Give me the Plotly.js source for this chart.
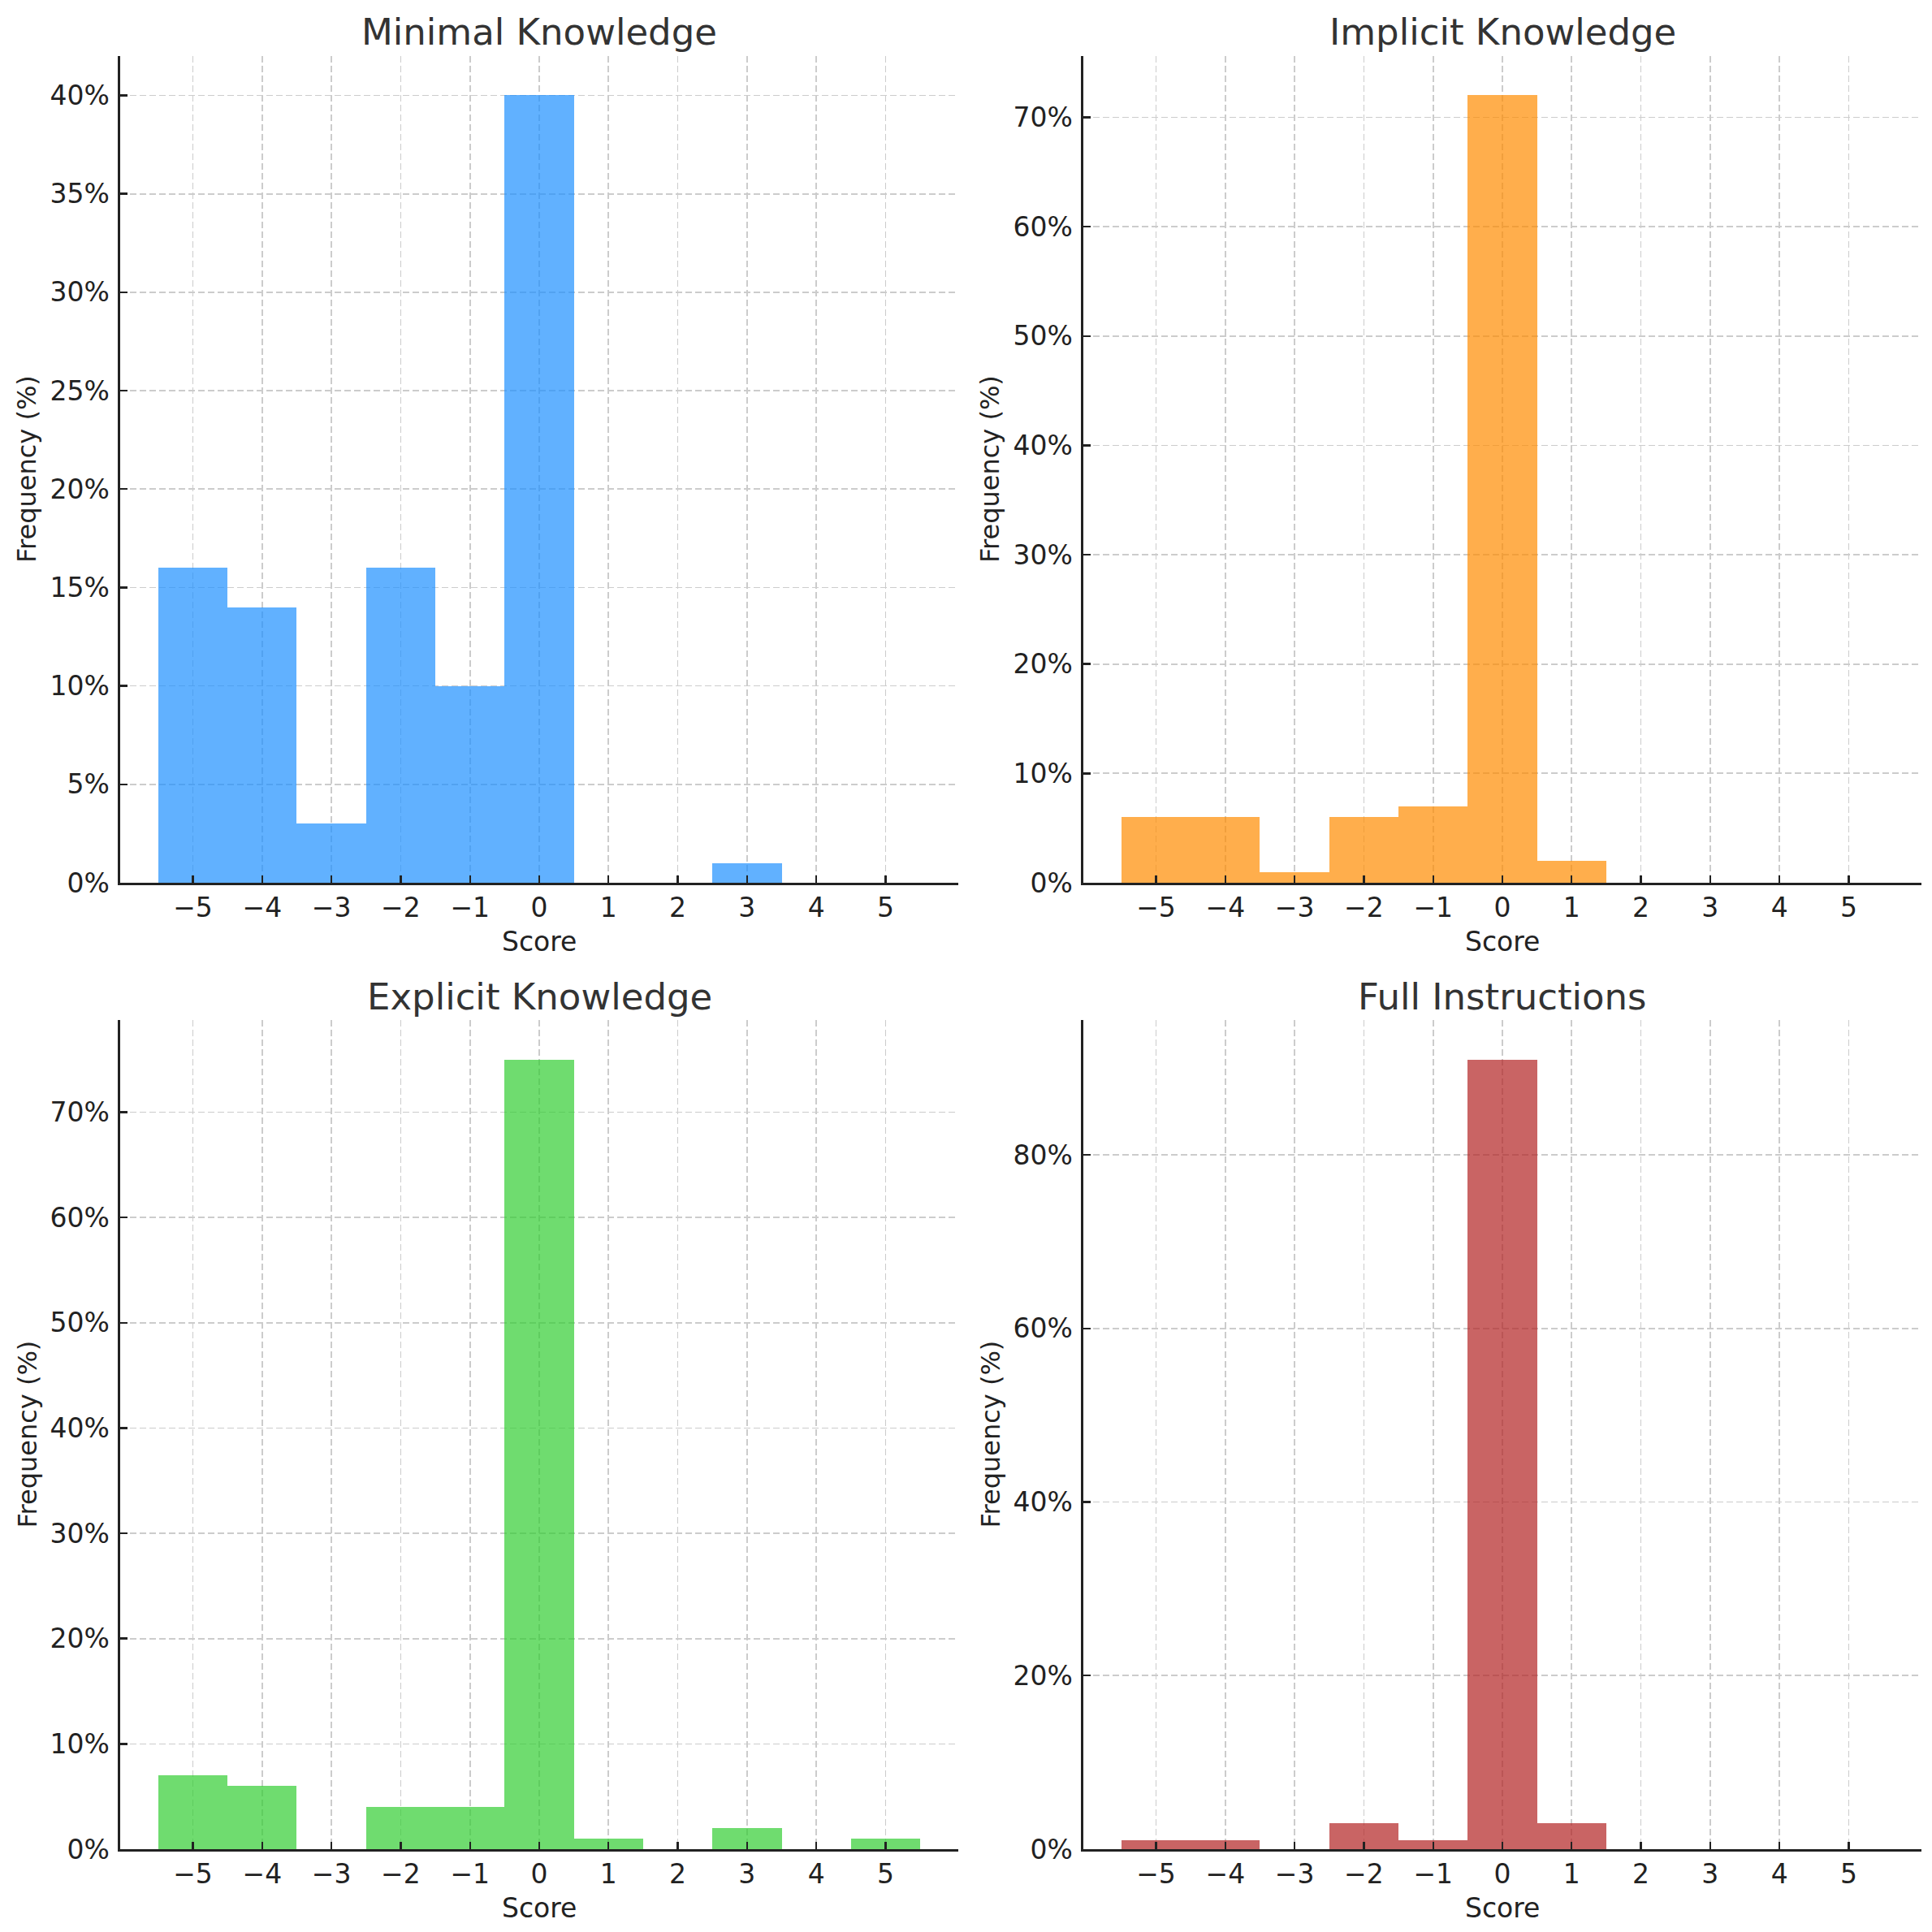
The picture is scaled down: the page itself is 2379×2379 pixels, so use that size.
<!DOCTYPE html>
<html>
<head>
<meta charset="utf-8">
<script src="https://cdn.plot.ly/plotly-3.0.1.min.js"></script>
<style>html,body{margin:0;padding:0;background:#fff;}#chart{width:2379px;height:2379px;}</style>
</head>
<body>
<div id="chart"></div>
<script>
// ---- data ----
const scores = [-5, -4, -3, -2, -1, 0, 1, 2, 3, 4, 5];
const minimalKnowledge  = [16, 14, 3, 16, 10, 40, 0, 0, 1, 0, 0];
const implicitKnowledge = [6, 6, 1, 6, 7, 72, 2, 0, 0, 0, 0];
const explicitKnowledge = [7, 6, 0, 4, 4, 75, 1, 0, 2, 0, 1];
const fullInstructions  = [1, 1, 0, 3, 1, 91, 3, 0, 0, 0, 0];
const panelTitles = ["Minimal Knowledge", "Implicit Knowledge", "Explicit Knowledge", "Full Instructions"];
const yTickSets = [
  [0, 5, 10, 15, 20, 25, 30, 35, 40],
  [0, 10, 20, 30, 40, 50, 60, 70],
  [0, 10, 20, 30, 40, 50, 60, 70],
  [0, 20, 40, 60, 80]
];
const xLabel = "Score";
const yLabel = "Frequency (%)";

// ---- styling ----
const series = [minimalKnowledge, implicitKnowledge, explicitKnowledge, fullInstructions];
const colors = ["#1E90FF", "#FF8C00", "#32CD32", "#B22222"];
const W = 2379;
const xDomains = [[148/W, 1180/W], [1334/W, 2366/W], [148/W, 1180/W], [1334/W, 2366/W]];
const yDomains = [[1-1087/W, 1-69/W], [1-1087/W, 1-69/W], [1-2277/W, 1-1256/W], [1-2277/W, 1-1256/W]];
const FONT = "DejaVu Sans, sans-serif";

const traces = [];
const layout = {
  width: W, height: W,
  margin: {l: 0, r: 0, t: 0, b: 0},
  paper_bgcolor: "#ffffff",
  plot_bgcolor: "#ffffff",
  showlegend: false,
  bargap: 0,
  font: {family: FONT, size: 33, color: "#222222"},
  annotations: []
};

series.forEach((vals, i) => {
  const n = i + 1;
  const xa = n === 1 ? "x" : "x" + n;
  const ya = n === 1 ? "y" : "y" + n;
  traces.push({
    type: "bar",
    x: scores,
    y: vals,
    width: 1,
    xaxis: xa,
    yaxis: ya,
    marker: {color: colors[i], opacity: 0.7, line: {width: 0}},
    hoverinfo: "x+y"
  });
  const maxV = Math.max(...vals);
  const common = {
    showline: true, linecolor: "#222222", linewidth: 2.6, mirror: false,
    ticks: "inside", ticklen: 9, tickwidth: 2.4, tickcolor: "#222222",
    showgrid: true, gridcolor: "#cccccc", gridwidth: 1.7, griddash: "8px,4px",
    zeroline: false, automargin: false,
    tickfont: {family: FONT, size: 33, color: "#222222"}
  };
  layout["xaxis" + (n === 1 ? "" : n)] = Object.assign({}, common, {
    domain: xDomains[i],
    anchor: ya,
    range: [-6.05, 6.05],
    tickmode: "array",
    tickvals: scores,
    ticklabelstandoff: 0
  });
  layout["yaxis" + (n === 1 ? "" : n)] = Object.assign({}, common, {
    domain: yDomains[i],
    anchor: xa,
    range: [0, maxV * 1.05],
    tickmode: "array",
    tickvals: yTickSets[i],
    ticktext: yTickSets[i].map(v => v + "%"),
    ticklabelstandoff: 4
  });
  const xc = (xDomains[i][0] + xDomains[i][1]) / 2;
  const yTopPx = i < 2 ? 40 : 1227;
  const xTitlePx = i < 2 ? 1159 : 2349;
  const yLabPx = i % 2 === 0 ? 33 : 1219;
  layout.annotations.push({
    text: panelTitles[i], xref: "paper", yref: "paper",
    x: xc, y: 1 - yTopPx / W, xanchor: "center", yanchor: "middle",
    showarrow: false, font: {family: FONT, size: 45, color: "#333333"}
  });
  layout.annotations.push({
    text: xLabel, xref: "paper", yref: "paper",
    x: xc, y: 1 - xTitlePx / W, xanchor: "center", yanchor: "middle",
    showarrow: false, font: {family: FONT, size: 33, color: "#222222"}
  });
  layout.annotations.push({
    text: yLabel, xref: "paper", yref: "paper", textangle: -90,
    x: yLabPx / W, y: (yDomains[i][0] + yDomains[i][1]) / 2, xanchor: "center", yanchor: "middle",
    showarrow: false, font: {family: FONT, size: 32, color: "#222222"}
  });
});

Plotly.newPlot("chart", traces, layout, {staticPlot: true, displayModeBar: false});
</script>
</body>
</html>
